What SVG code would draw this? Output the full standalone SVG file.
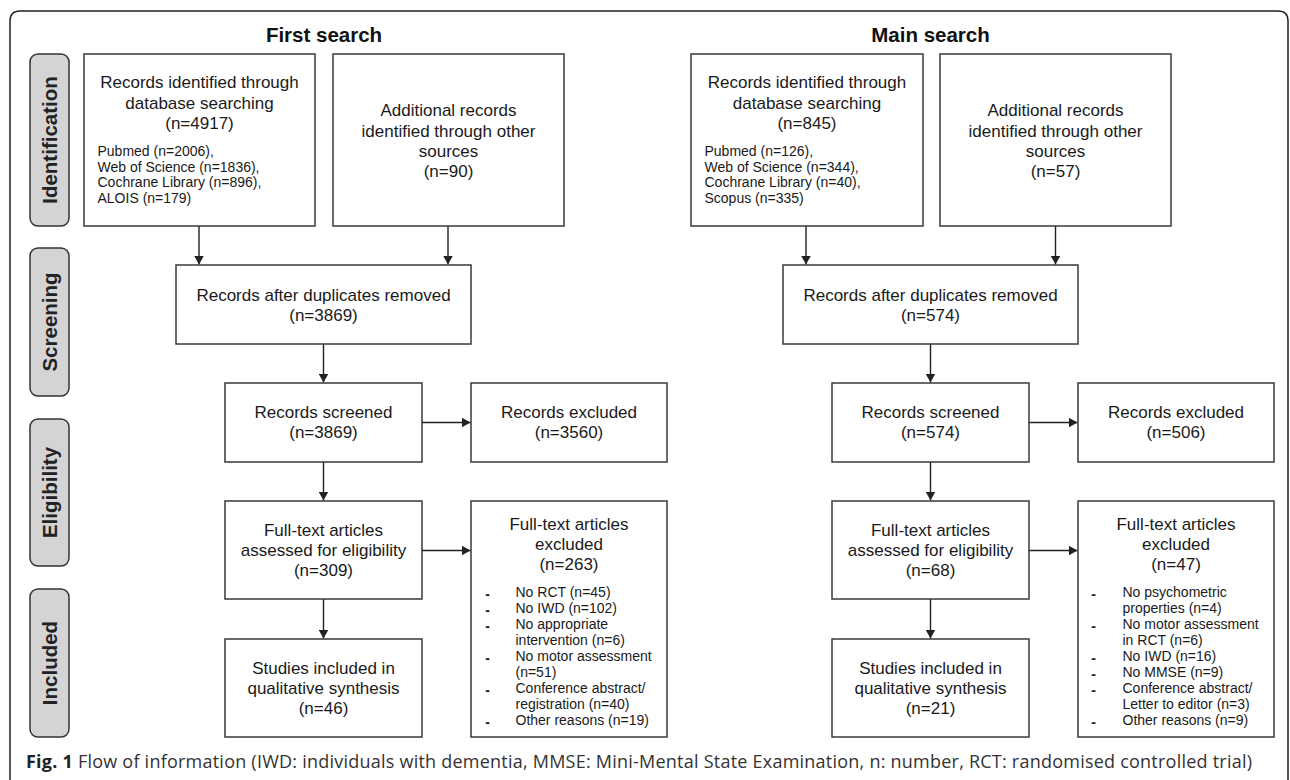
<svg xmlns="http://www.w3.org/2000/svg" width="1290" height="780" viewBox="0 0 1290 780">
<style>
.frame{fill:none;stroke:#222;stroke-width:1.5}
.phase{fill:#d4d4d4;stroke:#333;stroke-width:1.5}
.ptxt{font-family:"Liberation Sans",Arial,sans-serif;font-weight:bold;font-size:20.5px;fill:#222;text-anchor:middle}
.title{font-family:"Liberation Sans",Arial,sans-serif;font-weight:bold;font-size:20.5px;fill:#111;text-anchor:middle}
.box{fill:#fff;stroke:#3a3a3a;stroke-width:1.5}
.t{font-family:"Liberation Sans",Arial,sans-serif;font-size:17px;fill:#1a1a1a;text-anchor:middle}
.s{font-family:"Liberation Sans",Arial,sans-serif;font-size:14px;fill:#1a1a1a}
.d{font-family:"Liberation Sans",Arial,sans-serif;font-size:14px;font-weight:bold;fill:#1a1a1a;text-anchor:middle}
.edge{fill:none;stroke:#222;stroke-width:1.4}
.cap{font-family:"Open Sans","Noto Sans",sans-serif;font-size:18px;fill:#333}
</style>
<defs>
<marker id="ah" viewBox="0 0 9 10" markerWidth="9" markerHeight="10" refX="9" refY="5" orient="auto" markerUnits="userSpaceOnUse">
<path d="M0,0 L9,5 L0,10 z" fill="#222"/>
</marker>
</defs>
<rect width="1290" height="780" fill="#fff"/>
<path class="frame" d="M10,790 L10,21 Q10,11 20,11 L1278,11 Q1288,11 1288,21 L1288,790"/>

<g id="phases">
<rect class="phase" x="30" y="54" width="39" height="172" rx="8"/>
<text class="ptxt" transform="translate(57,140) rotate(-90)">Identification</text>
<rect class="phase" x="30" y="248" width="39" height="148" rx="8"/>
<text class="ptxt" transform="translate(57,322) rotate(-90)">Screening</text>
<rect class="phase" x="30" y="419" width="39" height="147" rx="8"/>
<text class="ptxt" transform="translate(57,492.5) rotate(-90)">Eligibility</text>
<rect class="phase" x="30" y="589" width="39" height="148" rx="8"/>
<text class="ptxt" transform="translate(57,663) rotate(-90)">Included</text>
</g>

<g id="titles">
<text class="title" x="324" y="41.5">First search</text>
<text class="title" x="930.5" y="41.5">Main search</text>
</g>

<g id="connectors">
<path class="edge" d="M199,226 V264.5" marker-end="url(#ah)"/>
<path class="edge" d="M448,226 V264.5" marker-end="url(#ah)"/>
<path class="edge" d="M323.5,344 V382.5" marker-end="url(#ah)"/>
<path class="edge" d="M422,422.5 H470.5" marker-end="url(#ah)"/>
<path class="edge" d="M323.5,462 V500.5" marker-end="url(#ah)"/>
<path class="edge" d="M422,550.5 H470.5" marker-end="url(#ah)"/>
<path class="edge" d="M323.5,599 V638.5" marker-end="url(#ah)"/>
<path class="edge" d="M806,226 V264.5" marker-end="url(#ah)"/>
<path class="edge" d="M1055.5,226 V264.5" marker-end="url(#ah)"/>
<path class="edge" d="M930.5,344 V382.5" marker-end="url(#ah)"/>
<path class="edge" d="M1029,422.5 H1077.5" marker-end="url(#ah)"/>
<path class="edge" d="M930.5,462 V500.5" marker-end="url(#ah)"/>
<path class="edge" d="M1029,550.5 H1077.5" marker-end="url(#ah)"/>
<path class="edge" d="M930.5,599 V638.5" marker-end="url(#ah)"/>
</g>

<g id="f-db">
<rect class="box" x="84" y="54" width="231" height="172"/>
<text class="t" x="199.5" y="88">Records identified through</text>
<text class="t" x="199.5" y="108.5">database searching</text>
<text class="t" x="199.5" y="129">(n=4917)</text>
<text class="s" x="97.5" y="156">Pubmed (n=2006),</text>
<text class="s" x="97.5" y="171.7">Web of Science (n=1836),</text>
<text class="s" x="97.5" y="187.4">Cochrane Library (n=896),</text>
<text class="s" x="97.5" y="203">ALOIS (n=179)</text>
</g>
<g id="f-other">
<rect class="box" x="333" y="54" width="231" height="172"/>
<text class="t" x="448.5" y="116">Additional records</text>
<text class="t" x="448.5" y="136.5">identified through other</text>
<text class="t" x="448.5" y="157">sources</text>
<text class="t" x="448.5" y="177">(n=90)</text>
</g>
<g id="f-dup">
<rect class="box" x="176" y="265" width="295" height="79"/>
<text class="t" x="323.5" y="300.5">Records after duplicates removed</text>
<text class="t" x="323.5" y="320.5">(n=3869)</text>
</g>
<g id="f-screened">
<rect class="box" x="225" y="383" width="197" height="79"/>
<text class="t" x="323.5" y="418.3">Records screened</text>
<text class="t" x="323.5" y="438.3">(n=3869)</text>
</g>
<g id="f-recexcl">
<rect class="box" x="471" y="383" width="196" height="79"/>
<text class="t" x="569" y="418.3">Records excluded</text>
<text class="t" x="569" y="438.3">(n=3560)</text>
</g>
<g id="f-full">
<rect class="box" x="225" y="501" width="197" height="98"/>
<text class="t" x="323.5" y="536">Full-text articles</text>
<text class="t" x="323.5" y="556">assessed for eligibility</text>
<text class="t" x="323.5" y="576">(n=309)</text>
</g>
<g id="f-fullexcl">
<rect class="box" x="471" y="501" width="196" height="236"/>
<text class="t" x="569" y="530">Full-text articles</text>
<text class="t" x="569" y="550">excluded</text>
<text class="t" x="569" y="570">(n=263)</text>
<text class="d" x="487.5" y="599">-</text>
<text class="d" x="487.5" y="615">-</text>
<text class="d" x="487.5" y="631">-</text>
<text class="d" x="487.5" y="663">-</text>
<text class="d" x="487.5" y="695">-</text>
<text class="d" x="487.5" y="727">-</text>
<text class="s" x="515.5" y="597.3">No RCT (n=45)</text>
<text class="s" x="515.5" y="613.3">No IWD (n=102)</text>
<text class="s" x="515.5" y="629.2">No appropriate</text>
<text class="s" x="515.5" y="645.1">intervention (n=6)</text>
<text class="s" x="515.5" y="661">No motor assessment</text>
<text class="s" x="515.5" y="677">(n=51)</text>
<text class="s" x="515.5" y="693">Conference abstract/</text>
<text class="s" x="515.5" y="709">registration (n=40)</text>
<text class="s" x="515.5" y="725">Other reasons (n=19)</text>
</g>
<g id="f-incl">
<rect class="box" x="225" y="639" width="197" height="98"/>
<text class="t" x="323.5" y="674.3">Studies included in</text>
<text class="t" x="323.5" y="694.3">qualitative synthesis</text>
<text class="t" x="323.5" y="714.3">(n=46)</text>
</g>

<g id="m-db">
<rect class="box" x="691" y="54" width="232" height="172"/>
<text class="t" x="807" y="88">Records identified through</text>
<text class="t" x="807" y="108.5">database searching</text>
<text class="t" x="807" y="129">(n=845)</text>
<text class="s" x="704.5" y="156">Pubmed (n=126),</text>
<text class="s" x="704.5" y="171.7">Web of Science (n=344),</text>
<text class="s" x="704.5" y="187.4">Cochrane Library (n=40),</text>
<text class="s" x="704.5" y="203">Scopus (n=335)</text>
</g>
<g id="m-other">
<rect class="box" x="940" y="54" width="231" height="172"/>
<text class="t" x="1055.5" y="116">Additional records</text>
<text class="t" x="1055.5" y="136.5">identified through other</text>
<text class="t" x="1055.5" y="157">sources</text>
<text class="t" x="1055.5" y="177">(n=57)</text>
</g>
<g id="m-dup">
<rect class="box" x="783" y="265" width="295" height="79"/>
<text class="t" x="930.5" y="300.5">Records after duplicates removed</text>
<text class="t" x="930.5" y="320.5">(n=574)</text>
</g>
<g id="m-screened">
<rect class="box" x="832" y="383" width="197" height="79"/>
<text class="t" x="930.5" y="418.3">Records screened</text>
<text class="t" x="930.5" y="438.3">(n=574)</text>
</g>
<g id="m-recexcl">
<rect class="box" x="1078" y="383" width="196" height="79"/>
<text class="t" x="1176" y="418.3">Records excluded</text>
<text class="t" x="1176" y="438.3">(n=506)</text>
</g>
<g id="m-full">
<rect class="box" x="832" y="501" width="197" height="98"/>
<text class="t" x="930.5" y="536">Full-text articles</text>
<text class="t" x="930.5" y="556">assessed for eligibility</text>
<text class="t" x="930.5" y="576">(n=68)</text>
</g>
<g id="m-fullexcl">
<rect class="box" x="1078" y="501" width="196" height="236"/>
<text class="t" x="1176" y="530">Full-text articles</text>
<text class="t" x="1176" y="550">excluded</text>
<text class="t" x="1176" y="570">(n=47)</text>
<text class="d" x="1093.5" y="599">-</text>
<text class="d" x="1093.5" y="631">-</text>
<text class="d" x="1093.5" y="663">-</text>
<text class="d" x="1093.5" y="679">-</text>
<text class="d" x="1093.5" y="695">-</text>
<text class="d" x="1093.5" y="727">-</text>
<text class="s" x="1122.5" y="597.3">No psychometric</text>
<text class="s" x="1122.5" y="613.3">properties (n=4)</text>
<text class="s" x="1122.5" y="629.2">No motor assessment</text>
<text class="s" x="1122.5" y="645.1">in RCT (n=6)</text>
<text class="s" x="1122.5" y="661">No IWD (n=16)</text>
<text class="s" x="1122.5" y="677">No MMSE (n=9)</text>
<text class="s" x="1122.5" y="693">Conference abstract/</text>
<text class="s" x="1122.5" y="709">Letter to editor (n=3)</text>
<text class="s" x="1122.5" y="725">Other reasons (n=9)</text>
</g>
<g id="m-incl">
<rect class="box" x="832" y="639" width="197" height="98"/>
<text class="t" x="930.5" y="674.3">Studies included in</text>
<text class="t" x="930.5" y="694.3">qualitative synthesis</text>
<text class="t" x="930.5" y="714.3">(n=21)</text>
</g>

<g id="caption">
<text class="cap" x="26" y="768.3" textLength="1226" lengthAdjust="spacing"><tspan font-weight="bold" fill="#222">Fig. 1</tspan> Flow of information (IWD: individuals with dementia, MMSE: Mini-Mental State Examination, n: number, RCT: randomised controlled trial)</text>
</g>
</svg>
